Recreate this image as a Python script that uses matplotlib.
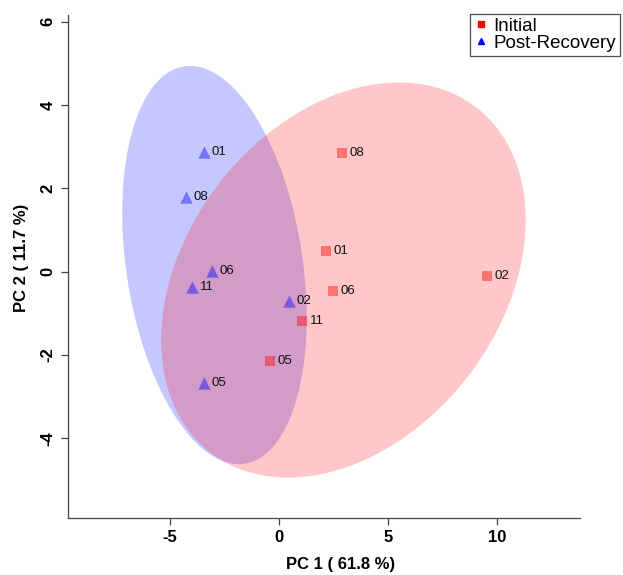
import numpy as np
import matplotlib
matplotlib.use("Agg")
from matplotlib import pyplot as plt
from matplotlib.patches import Ellipse
from matplotlib.lines import Line2D

plt.rcParams['font.family'] = ['Liberation Sans', 'DejaVu Sans']

# PCA scores
ids_initial = ['08', '01', '06', '11', '05', '02']
pc1_initial = [2.89, 2.15, 2.47, 1.05, -0.41, 9.53]
pc2_initial = [2.85, 0.50, -0.46, -1.18, -2.14, -0.10]

ids_post = ['01', '08', '06', '11', '02', '05']
pc1_post = [-3.44, -4.26, -3.07, -3.99, 0.46, -3.44]
pc2_post = [2.87, 1.79, 0.02, -0.37, -0.70, -2.67]

groups = ['Initial', 'Post-Recovery']

# group ellipses (post-recovery, initial), data units
ell_cx = [-2.96, 2.95]
ell_cy = [0.16, -0.20]
ell_w = [10.24, 17.05]
ell_h = [7.61, 8.85]
ell_angle = [122.5, 13.5]

xlabel = 'PC 1 ( 61.8 %)'
ylabel = 'PC 2 ( 11.7 %)'
xticks = [-5, 0, 5, 10]
yticks = [-4, -2, 0, 2, 4, 6]

W, H = 623, 575
fig = plt.figure(figsize=(W / 100, H / 100), dpi=100)
ax = fig.add_axes([68 / W, 1 - 518 / H, (580 - 68) / W, (518 - 15) / H])

for i, col in enumerate([(0, 0, 1), (1, 0, 0)]):
    ax.add_patch(Ellipse((ell_cx[i], ell_cy[i]), ell_w[i], ell_h[i], angle=ell_angle[i],
                         facecolor=col, edgecolor='none', alpha=0.22))

ax.scatter(pc1_initial, pc2_initial, marker='s', s=55, color='red', alpha=0.42, linewidths=0, zorder=3)
ax.scatter(pc1_post, pc2_post, marker='^', s=80, color='blue', alpha=0.42, linewidths=0, zorder=3)

for xs, ys, ids in [(pc1_initial, pc2_initial, ids_initial), (pc1_post, pc2_post, ids_post)]:
    for x, y, t in zip(xs, ys, ids):
        ax.annotate(t, (x, y), xytext=(5.5, 0), textcoords='offset points',
                    ha='left', va='center', fontsize=9.5, color='#111111', zorder=4)

ax.set_xlim(-9.67, 13.79)
ax.set_ylim(-5.91, 6.16)
ax.set_xticks(xticks)
ax.set_yticks(yticks)
ax.set_xticklabels([str(v) for v in xticks], fontweight='bold', fontsize=12)
ax.set_yticklabels([str(v) for v in yticks], fontweight='bold', fontsize=12,
                   rotation=90, va='center')
ax.tick_params(axis='both', length=5, width=0.9, color='#444444', pad=4)
for side in ['top', 'right']:
    ax.spines[side].set_visible(False)
for side in ['left', 'bottom']:
    ax.spines[side].set_color('#444444')
    ax.spines[side].set_linewidth(0.9)

fig.text(341 / W, 1 - 565 / H, xlabel, ha='center', va='center', fontsize=12, fontweight='bold')
fig.text(22 / W, 1 - 258 / H, ylabel, ha='center', va='center', fontsize=12,
         fontweight='bold', rotation=90)

handles = [
    Line2D([], [], marker='s', color='red', linestyle='none', markersize=4.5),
    Line2D([], [], marker='^', color='blue', linestyle='none', markersize=5),
]
leg = fig.legend(handles, groups, loc='upper right', bbox_to_anchor=(620 / W, 1 - 14 / H),
                 fontsize=13.5, frameon=True, fancybox=False, borderpad=0.2,
                 handletextpad=0.35, handlelength=0.7, labelspacing=0.0, borderaxespad=0)
leg.get_frame().set_edgecolor('#222222')
leg.get_frame().set_linewidth(0.9)

fig.savefig('out.png', dpi=100)
